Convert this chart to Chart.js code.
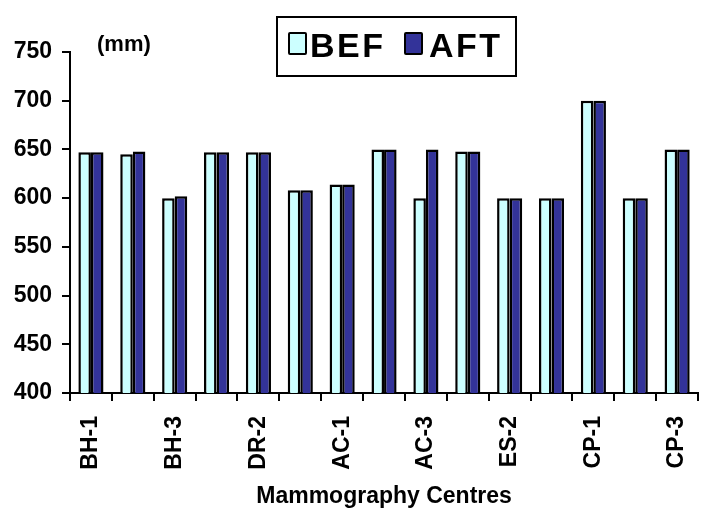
<!DOCTYPE html>
<html lang="en">
<head>
    <meta charset="UTF-8">
    <title>Mammography Centres</title>
    <script src="https://cdn.jsdelivr.net/npm/chart.js"></script>
    <style>
        html, body {
            margin: 0;
            padding: 0;
            background: #fff;
            overflow: hidden;
        }
        .wrap {
            position: relative;
            width: 720px;
            height: 512px;
        }
        .unit {
            position: absolute;
            left: 97px;
            top: 33px;
            font: bold 22px "Liberation Sans", Arial, sans-serif;
            line-height: 22px;
            color: #000;
        }
        .legend {
            position: absolute;
            left: 276px;
            top: 16px;
            width: 237px;
            height: 57px;
            border: 2px solid #000;
            background: #fff;
        }
        .legend .key {
            position: absolute;
            top: 14px;
            width: 15px;
            height: 19px;
            border: 2px solid #000;
            border-radius: 2px;
        }
        .legend .txt {
            position: absolute;
            top: 10px;
            font: bold 34px "Liberation Sans", Arial, sans-serif;
            line-height: 34px;
            letter-spacing: 2.5px;
            color: #000;
        }
    </style>
</head>
<body>

<div class="wrap">
    <canvas id="barChart"></canvas>
    <div class="unit">(mm)</div>
    <div class="legend">
        <div class="key" style="left:10px;background:#ccffff"></div>
        <div class="txt" style="left:32px">BEF</div>
        <div class="key" style="left:126px;background:#333399"></div>
        <div class="txt" style="left:151px">AFT</div>
    </div>
</div>

<script>
    const centres = ['BH-1', 'BH-2', 'BH-3', 'DR-1', 'DR-2', 'DR-3', 'AC-1', 'AC-2',
                     'AC-3', 'ES-1', 'ES-2', 'ES-3', 'CP-1', 'CP-2', 'CP-3'];
    const before = [647, 645, 600, 647, 647, 608, 614, 650, 600, 648, 600, 600, 700, 600, 650];
    const after  = [647, 648, 602, 647, 647, 608, 614, 650, 650, 648, 600, 600, 700, 600, 650];

    const FONT = '"Liberation Sans", Arial, sans-serif';

    const ctx = document.getElementById('barChart').getContext('2d');
    new Chart(ctx, {
        type: 'bar',
        data: {
            labels: centres,
            datasets: [
                {
                    label: 'BEF',
                    data: before,
                    backgroundColor: '#ccffff',
                    borderColor: '#000',
                    borderWidth: 2.5,
                    borderSkipped: false
                },
                {
                    label: 'AFT',
                    data: after,
                    backgroundColor: '#333399',
                    borderColor: '#000',
                    borderWidth: 2.5,
                    borderSkipped: false
                }
            ]
        },
        options: {
            responsive: true,
            maintainAspectRatio: false,
            animation: false,
            layout: { padding: { top: 52, right: 8, left: 0, bottom: 0 } },
            datasets: {
                bar: { categoryPercentage: 0.6, barPercentage: 1.0 }
            },
            plugins: {
                legend: { display: false },
                tooltip: { enabled: false }
            },
            scales: {
                x: {
                    afterFit: s => { s.height = 119; },
                    grid: {
                        offset: true,
                        drawOnChartArea: false,
                        drawTicks: true,
                        tickLength: 8,
                        color: '#000',
                        lineWidth: 2
                    },
                    border: { display: true, color: '#000', width: 2 },
                    ticks: {
                        autoSkip: false,
                        minRotation: 90,
                        maxRotation: 90,
                        padding: 15,
                        color: '#000',
                        font: { family: FONT, size: 23, weight: 'bold' },
                        callback: (v, i) => (i % 2 === 0 ? centres[i] : '')
                    },
                    title: {
                        display: true,
                        text: 'Mammography Centres',
                        color: '#000',
                        font: { family: FONT, size: 23, weight: 'bold' },
                        padding: { top: 0, bottom: 2 }
                    }
                },
                y: {
                    min: 400,
                    max: 750,
                    afterFit: s => { s.width = 70; },
                    grid: {
                        drawOnChartArea: false,
                        drawTicks: true,
                        tickLength: 8,
                        color: '#000',
                        lineWidth: 2
                    },
                    border: { display: true, color: '#000', width: 2 },
                    ticks: {
                        stepSize: 50,
                        padding: 10,
                        color: '#000',
                        font: { family: FONT, size: 23, weight: 'bold' }
                    }
                }
            }
        }
    });
</script>

</body>
</html>
